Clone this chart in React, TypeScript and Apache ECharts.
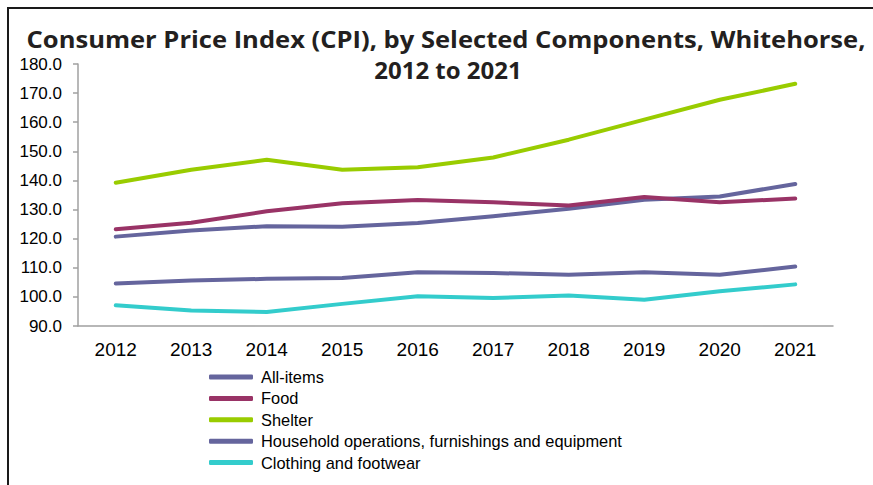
import React, { useEffect, useRef } from "react";
import * as echarts from "echarts";

const years = ["2012", "2013", "2014", "2015", "2016", "2017", "2018", "2019", "2020", "2021"];
const allItems = [120.7, 122.8, 124.3, 124.1, 125.4, 127.7, 130.3, 133.4, 134.5, 138.8];
const food = [123.2, 125.5, 129.4, 132.2, 133.3, 132.5, 131.4, 134.3, 132.5, 133.8];
const shelter = [139.2, 143.7, 147.1, 143.7, 144.5, 147.9, 154.0, 160.9, 167.7, 173.2];
const household = [104.6, 105.6, 106.2, 106.5, 108.5, 108.2, 107.6, 108.5, 107.6, 110.4];
const clothing = [97.1, 95.3, 94.8, 97.6, 100.2, 99.6, 100.5, 99.0, 101.9, 104.3];

const titleLine1 = "Consumer Price Index (CPI), by Selected Components, Whitehorse,";
const titleLine2 = "2012 to 2021";

const seriesNames = [
  "All-items",
  "Food",
  "Shelter",
  "Household operations, furnishings and equipment",
  "Clothing and footwear",
];
const seriesColors = ["#65659d", "#993366", "#99cc00", "#65659d", "#33cccc"];
const seriesData = [allItems, food, shelter, household, clothing];

export default function App() {
  const ref = useRef<HTMLDivElement>(null);
  useEffect(() => {
    if (!ref.current) return;
    const chart = echarts.init(ref.current, undefined, { renderer: "svg" });
    const titleFont = 'bold 24px "Open Sans", sans-serif';
    chart.setOption({
      animation: false,
      backgroundColor: "#ffffff",
      graphic: [
        {
          type: "rect",
          shape: { x: 8, y: 8, width: 900, height: 500 },
          style: { fill: "none", stroke: "#1a1a1a", lineWidth: 2 },
          silent: true,
        },
        {
          type: "text",
          x: 446,
          y: 38.5,
          scaleX: 1.065,
          style: {
            text: titleLine1,
            font: titleFont,
            fill: "#231f20",
            textAlign: "center",
            textVerticalAlign: "middle",
          },
        },
        {
          type: "text",
          x: 448,
          y: 69,
          style: {
            text: titleLine2,
            font: titleFont,
            fill: "#231f20",
            textAlign: "center",
            textVerticalAlign: "middle",
          },
        },
      ],
      legend: {
        orient: "vertical",
        left: 209,
        top: 369,
        padding: 0,
        itemWidth: 44,
        itemHeight: 5,
        itemGap: 5.4,
        icon: "roundRect",
        data: seriesNames,
        textStyle: {
          fontFamily: "Liberation Sans, Arial, sans-serif",
          fontSize: 16.4,
          color: "#000",
          padding: [0, 0, 0, 3],
        },
      },
      grid: { left: 78, right: 40, top: 64, bottom: 159, containLabel: false },
      xAxis: {
        type: "category",
        data: years,
        boundaryGap: true,
        axisLine: { lineStyle: { color: "#a0a0a0", width: 1.5 } },
        axisTick: { length: 5, lineStyle: { color: "#a0a0a0", width: 1.5 } },
        axisLabel: {
          margin: 14,
          fontFamily: "Liberation Sans, Arial, sans-serif",
          fontSize: 19,
          color: "#000",
        },
      },
      yAxis: {
        type: "value",
        min: 90,
        max: 180,
        interval: 10,
        splitLine: { show: false },
        axisLine: { show: true, lineStyle: { color: "#a0a0a0", width: 1.5 } },
        axisTick: { show: true, length: 5, lineStyle: { color: "#a0a0a0", width: 1.5 } },
        axisLabel: {
          margin: 16,
          fontFamily: "Liberation Sans, Arial, sans-serif",
          fontSize: 17,
          color: "#000",
          formatter: (v: number) => v.toFixed(1),
        },
      },
      series: seriesNames.map((name, i) => ({
        name,
        type: "line",
        data: seriesData[i],
        showSymbol: false,
        symbol: "none",
        color: seriesColors[i],
        lineStyle: { width: 4, color: seriesColors[i], cap: "round", join: "round" },
        itemStyle: { color: seriesColors[i] },
      })),
    });
    return () => chart.dispose();
  }, []);
  return (
    <div
      ref={ref}
      style={{ position: "fixed", left: 0, top: 0, width: 873, height: 485 }}
    />
  );
}
